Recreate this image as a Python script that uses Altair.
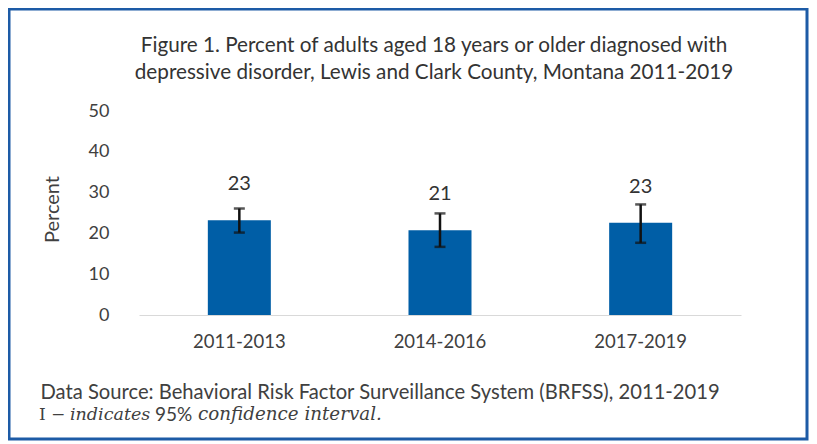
import altair as alt
import pandas as pd

# ---- data ----
periods = ["2011-2013", "2014-2016", "2017-2019"]
percent = [23.2, 20.8, 22.6]
ci_low = [20.2, 16.7, 17.7]
ci_high = [26.1, 24.9, 27.1]
bar_labels = ["23", "21", "23"]
y_ticks = [0, 10, 20, 30, 40, 50]

title_lines = [
    "Figure 1. Percent of adults aged 18 years or older diagnosed with",
    "depressive disorder, Lewis and Clark County, Montana 2011-2019",
]
source_note = "Data Source: Behavioral Risk Factor Surveillance System (BRFSS), 2011-2019"
ci_note_parts = ["I \u2212", "indicates", "95%", "confidence interval."]

df = pd.DataFrame({
    "period": periods,
    "percent": percent,
    "lo": ci_low,
    "hi": ci_high,
    "label": bar_labels,
})

FONT = "Lato"
SERIF = "DejaVu Serif"
TEXT = "#404040"
BAR = "#005ea6"
FRAME = "#1d5ba6"
W, H = 798, 430

x_enc = alt.X(
    "period:N",
    sort=periods,
    scale=alt.Scale(range=[130, 732], paddingInner=0.686, paddingOuter=0.343),
    axis=alt.Axis(
        title=source_note,
        labelAngle=0,
        ticks=False,
        tickSize=0,
        domainColor="#d9d9d9",
        domainWidth=1,
        labelPadding=26,
        labelBaseline="middle",
        labelFont=FONT,
        labelFontSize=18.5,
        labelColor=TEXT,
        offset=-124,
        titleX=31,
        titleY=77,
        titleAlign="left",
        titleAnchor="start",
        titleBaseline="middle",
        titleFont=FONT,
        titleFontSize=20.2,
        titleFontWeight="normal",
        titleColor=TEXT,
    ),
)

y_scale = alt.Scale(domain=[0, 50], range=[306, 102], nice=False)

y_enc = alt.Y(
    "percent:Q",
    scale=y_scale,
    axis=alt.Axis(
        values=y_ticks,
        title="Percent",
        domain=False,
        ticks=False,
        tickSize=0,
        grid=False,
        labelPadding=3,
        labelFont=FONT,
        labelFontSize=18,
        labelColor=TEXT,
        offset=-103,
        titleX=-60,
        titleY=200,
        titleAngle=270,
        titleAlign="center",
        titleBaseline="middle",
        titleFont=FONT,
        titleFontSize=20,
        titleFontWeight="normal",
        titleColor=TEXT,
    ),
)

base = alt.Chart(df)

bars = base.mark_bar(color=BAR).encode(x=x_enc, y=y_enc)

err = base.mark_rule(color="#111111", strokeWidth=2.5).encode(
    x=alt.X("period:N", sort=periods),
    y=alt.Y("lo:Q", scale=y_scale),
    y2="hi:Q",
)
cap_lo = base.mark_tick(color="#111111", size=11, thickness=2.5).encode(
    x=alt.X("period:N", sort=periods),
    y=alt.Y("lo:Q", scale=y_scale),
)
cap_hi = base.mark_tick(color="#111111", size=11, thickness=2.5).encode(
    x=alt.X("period:N", sort=periods),
    y=alt.Y("hi:Q", scale=y_scale),
)

labels = base.mark_text(
    dy=-36, baseline="middle", align="center", font=FONT, fontSize=20, color="#333333"
).encode(
    x=alt.X("period:N", sort=periods),
    y=alt.Y("percent:Q", scale=y_scale),
    text="label:N",
)

# footnote line 2: mixed upright / italic pieces
note_x = [30, 61, 146, 189]
note_styles = [("normal", SERIF, 17), ("italic", SERIF, 17.5),
               ("normal", FONT, 19), ("italic", SERIF, 18.3)]
note_layers = []
for part, nx, (style, fnt, fs) in zip(ci_note_parts, note_x, note_styles):
    note_layers.append(
        alt.Chart(pd.DataFrame({"t": [part]}))
        .mark_text(align="left", baseline="middle", font=fnt, fontSize=fs,
                   fontStyle=style, color=TEXT)
        .encode(x=alt.value(nx), y=alt.value(406), text="t:N")
    )

chart = (
    alt.layer(bars, err, cap_lo, cap_hi, labels, *note_layers)
    .properties(
        width=W,
        height=H,
        background="white",
        autosize=alt.AutoSizeParams(type="none"),
        padding={"left": 1, "top": 1, "right": 2, "bottom": 2},
        title=alt.TitleParams(
            text=title_lines,
            anchor="middle",
            frame="group",
            orient="top",
            baseline="top",
            offset=0,
            dx=26,
            dy=75,
            lineHeight=27,
            font=FONT,
            fontSize=20.7,
            fontWeight="normal",
            color="#333333",
        ),
    )
    .configure_view(stroke=FRAME, strokeWidth=3)
)

chart.save("out.html", embed_options={"renderer": "svg", "actions": False})
